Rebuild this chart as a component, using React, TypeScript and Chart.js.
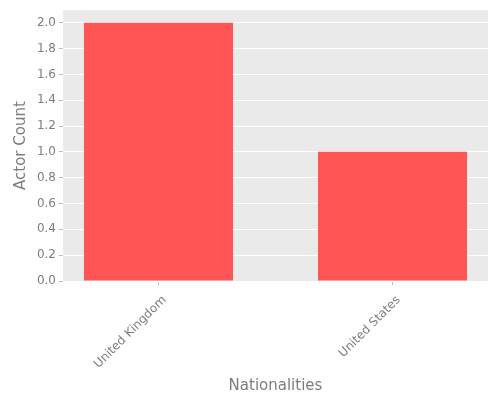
import React, { useEffect, useRef } from "react";
import { Chart, registerables } from "chart.js";

Chart.register(...registerables);

const categories = ["United Kingdom", "United States"];
const actorCounts = [2, 1];
const yTickValues = [0, 0.2, 0.4, 0.6, 0.8, 1.0, 1.2, 1.4, 1.6, 1.8, 2.0];

const TEXT = "#7d7d7d";
const FONT = "'DejaVu Sans', sans-serif";

const bgPlugin = {
  id: "plotBg",
  beforeDraw(chart: any) {
    const { ctx, chartArea } = chart;
    ctx.save();
    ctx.fillStyle = "#EAEAEA";
    ctx.fillRect(chartArea.left, chartArea.top, chartArea.right - chartArea.left, chartArea.bottom - chartArea.top);
    ctx.restore();
  },
};

export default function App() {
  const ref = useRef<HTMLCanvasElement>(null);
  useEffect(() => {
    if (!ref.current) return;
    const chart = new Chart(ref.current, {
      type: "bar",
      data: {
        datasets: [
          {
            data: categories.map((c, i) => ({ x: i, y: actorCounts[i] })),
            backgroundColor: "#FF5555",
            borderWidth: 0,
            categoryPercentage: 0.637,
            barPercentage: 1,
          },
        ],
      },
      options: {
        animation: false,
        responsive: false,
        maintainAspectRatio: false,
        layout: { padding: { top: 10, right: 12, left: 0, bottom: 0 } },
        plugins: { legend: { display: false }, tooltip: { enabled: false } },
        scales: {
          x: {
            type: "linear",
            offset: false,
            min: -0.408,
            max: 1.408,
            afterBuildTicks: (scale: any) => {
              scale.ticks = categories.map((_, i) => ({ value: i }));
            },
            afterFit: (scale: any) => {
              scale.height = 119;
            },
            ticks: {
              callback: (v: any) => categories[v] ?? "",
              minRotation: 45,
              maxRotation: 45,
              color: TEXT,
              font: { family: FONT, size: 12 },
              padding: 8,
              labelOffset: 6,
            },
            grid: {
              offset: false,
              drawOnChartArea: false,
              drawTicks: true,
              tickLength: 4,
              tickColor: "#bbbbbb",
            },
            border: { display: false },
            title: {
              display: true,
              text: "Nationalities",
              color: TEXT,
              font: { family: FONT, size: 15 },
              padding: { top: 0, bottom: 5 },
            },
          },
          y: {
            type: "linear",
            min: 0,
            max: 2.097,
            afterBuildTicks: (scale: any) => {
              scale.ticks = yTickValues.map((v) => ({ value: v }));
            },
            afterFit: (scale: any) => {
              scale.width = 63;
            },
            ticks: {
              callback: (v: any) => Number(v).toFixed(1),
              color: TEXT,
              font: { family: FONT, size: 12 },
              padding: 3,
            },
            grid: {
              color: "#ffffff",
              lineWidth: 1,
              drawTicks: true,
              tickLength: 4,
              tickColor: "#bbbbbb",
            },
            border: { display: false },
            title: {
              display: true,
              text: "Actor Count",
              color: TEXT,
              font: { family: FONT, size: 15 },
              padding: { top: 12, bottom: 0 },
            },
          },
        },
      },
      plugins: [bgPlugin],
    });
    return () => chart.destroy();
  }, []);
  return (
    <div style={{ position: "fixed", left: 0, top: 0, width: 500, height: 400, background: "#fff" }}>
      <canvas ref={ref} width={500} height={400} style={{ width: 500, height: 400 }} />
    </div>
  );
}
